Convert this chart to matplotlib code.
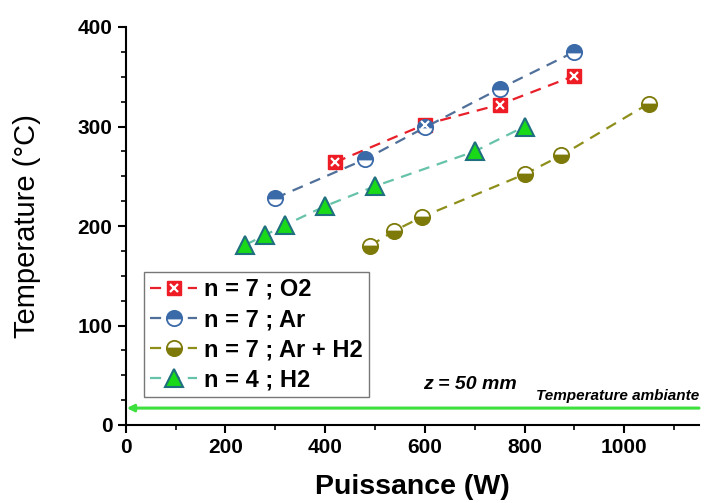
import matplotlib
matplotlib.use("Agg")
import matplotlib.pyplot as plt
from matplotlib.ticker import MultipleLocator
from matplotlib.legend_handler import HandlerTuple

plt.rcParams['font.family'] = ['Liberation Sans', 'DejaVu Sans']
plt.rcParams['font.weight'] = 'bold'

# Data
o2_x = [420, 600, 750, 900]
o2_y = [264, 302, 322, 351]
ar_x = [300, 480, 600, 750, 900]
ar_y = [228, 267, 299, 338, 375]
arh2_x = [490, 538, 594, 800, 874, 1049]
arh2_y = [180, 195, 209, 252, 271, 323]
h2_x = [240, 280, 320, 400, 500, 700, 800]
h2_y = [181, 191, 201, 220, 240, 275, 300]
t_amb = 17

labels = ['n = 7 ; O2', 'n = 7 ; Ar', 'n = 7 ; Ar + H2', 'n = 4 ; H2']

fig = plt.figure(figsize=(7.06, 5.03), dpi=100)
ax = fig.add_axes([125.7/706, 78/503, 573.3/706, 398/503])

dash = (5, 3.5)
l1, = ax.plot(o2_x, o2_y, color='#e8202a', lw=1.6, dashes=dash,
              marker='s', ms=10, mfc='#ee1c25', mec='#ee1c25', zorder=3)
x1, = ax.plot(o2_x, o2_y, ls='none', marker='x', ms=6, mew=1.6, mec='white', zorder=4)
l2, = ax.plot(ar_x, ar_y, color='#50709a', lw=1.6, dashes=dash,
              marker='o', ms=11, fillstyle='top', mfc='#3b6aa8', mfcalt='white',
              mec='#3b6aa8', mew=1.3, zorder=3)
l3, = ax.plot(arh2_x, arh2_y, color='#8e8e1a', lw=1.6, dashes=dash,
              marker='o', ms=11, fillstyle='bottom', mfc='#7d7a0a', mfcalt='white',
              mec='#7d7a0a', mew=1.3, zorder=3)
l4, = ax.plot(h2_x, h2_y, color='#66c2a8', lw=1.6, dashes=dash,
              marker='^', ms=13, mfc='#19d919', mec='#1f6f7f', mew=1.5, zorder=3)

ax.annotate('', xy=(2, t_amb), xytext=(1150, t_amb),
            arrowprops=dict(arrowstyle='-|>', color='#3ee03e', lw=2.2,
                            mutation_scale=10, shrinkA=0, shrinkB=0))
ax.text(690, 41, 'z = 50 mm', fontsize=14, fontstyle='italic', fontweight='bold',
        ha='center', va='center')
ax.text(1150, 29, 'Temperature ambiante', fontsize=11, fontstyle='italic',
        fontweight='bold', ha='right', va='center')

ax.set_xlim(0, 1150)
ax.set_ylim(0, 400)
ax.xaxis.set_major_locator(MultipleLocator(200))
ax.xaxis.set_minor_locator(MultipleLocator(100))
ax.yaxis.set_major_locator(MultipleLocator(100))
ax.yaxis.set_minor_locator(MultipleLocator(25))
ax.tick_params(which='major', length=6, width=1.5, labelsize=15, direction='out')
ax.tick_params(which='minor', length=3.5, width=1.2, direction='out')
for lab in ax.get_xticklabels() + ax.get_yticklabels():
    lab.set_fontweight('bold')
ax.spines['top'].set_visible(False)
ax.spines['right'].set_visible(False)
ax.spines['left'].set_linewidth(1.5)
ax.spines['bottom'].set_linewidth(1.5)

ax.set_xlabel('Puissance (W)', fontsize=20.5, fontweight='bold', labelpad=12)
ax.set_ylabel('Temperature (°C)', fontsize=21, fontweight='medium', labelpad=26)

leg = ax.legend([(l1, x1), l2, l3, l4], labels,
                handler_map={tuple: HandlerTuple(ndivide=1)},
                loc='lower left', bbox_to_anchor=(0.032, 0.07),
                prop={'weight': 'bold', 'size': 17},
                frameon=True, fancybox=False, edgecolor='#555555',
                handlelength=2.0, handletextpad=0.3, borderpad=0.25,
                labelspacing=0.3, borderaxespad=0)
leg.get_frame().set_linewidth(1.0)

fig.savefig('out.png', dpi=100)
